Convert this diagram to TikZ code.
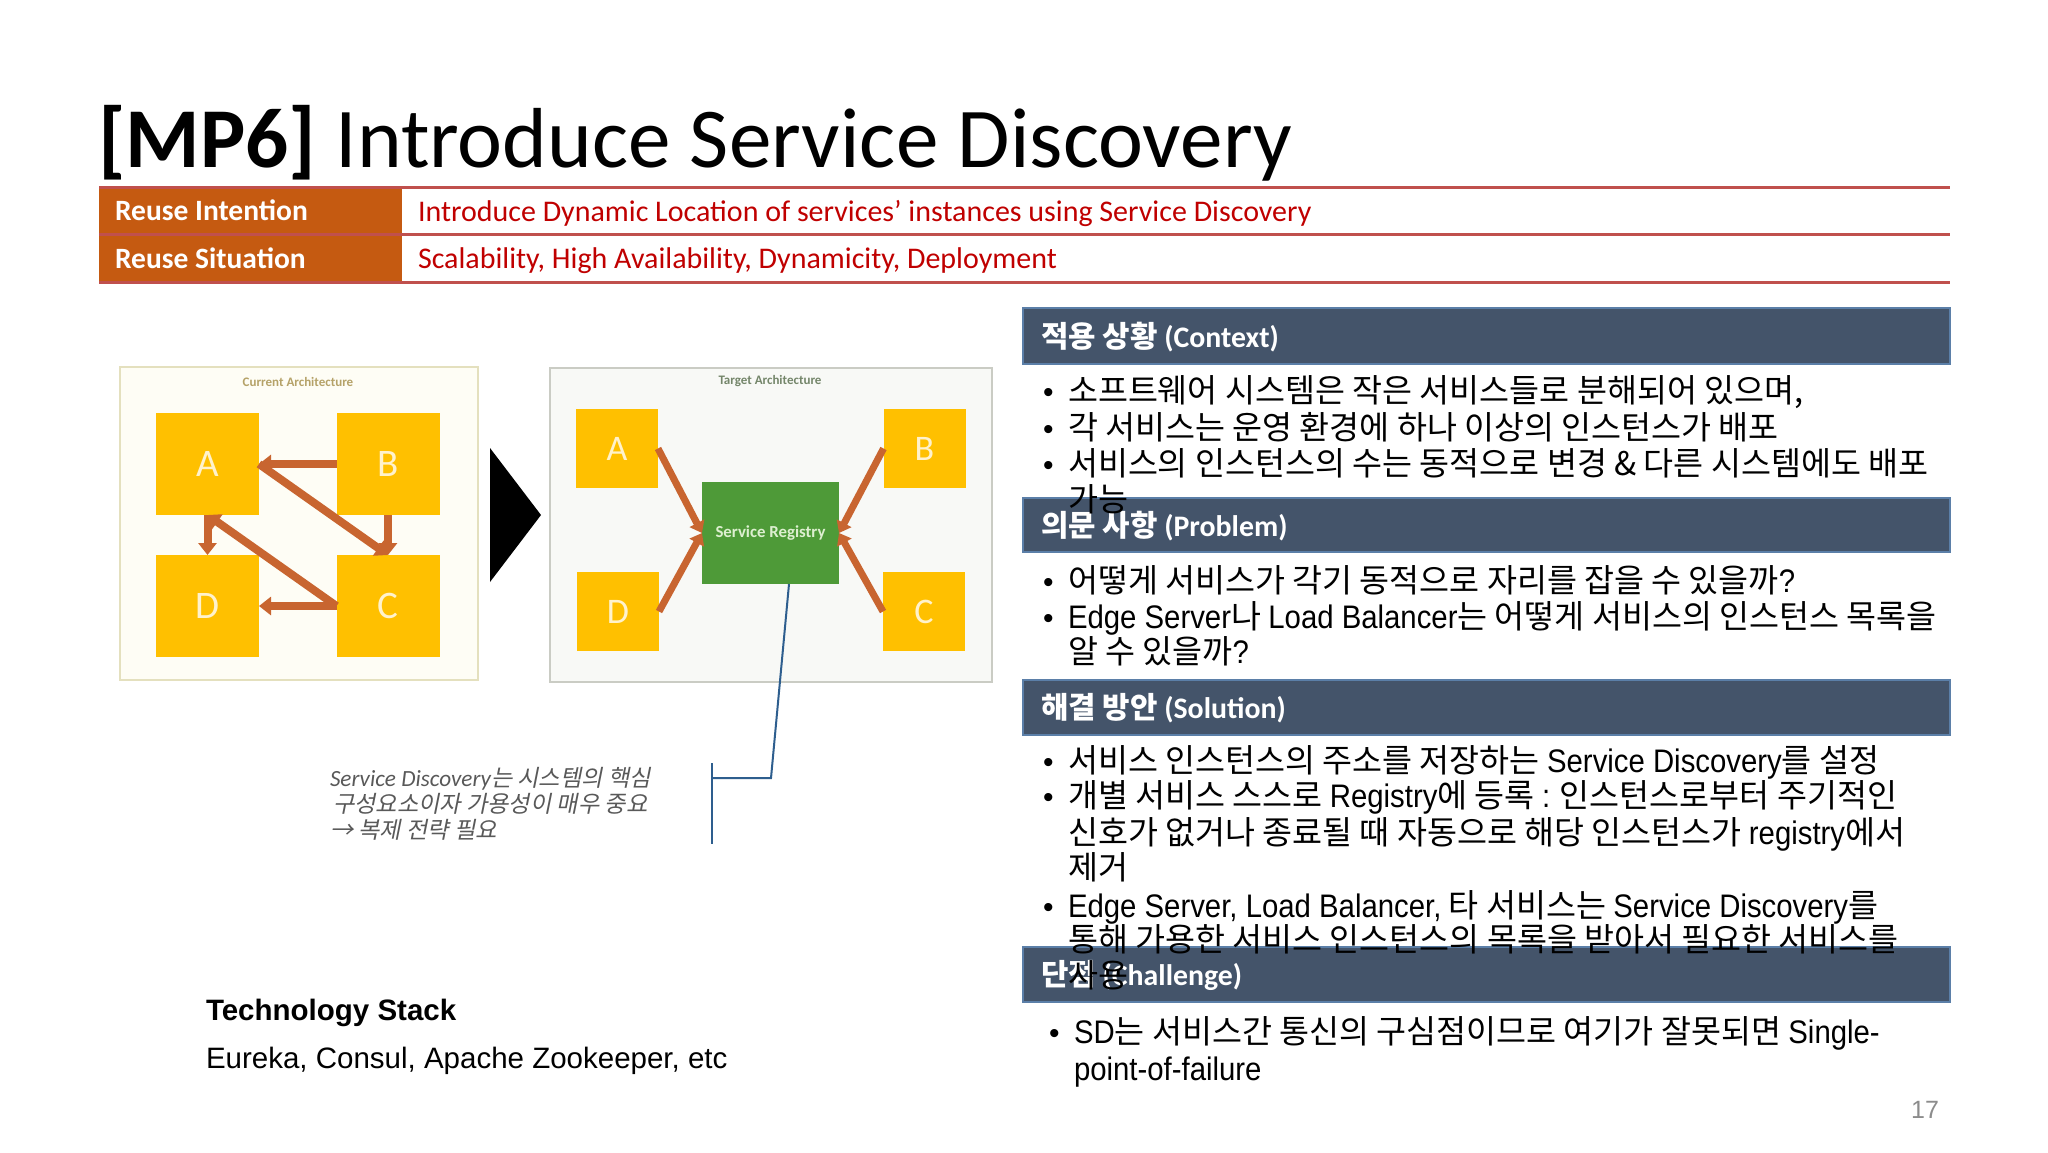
\documentclass[tikz,border=0pt]{standalone}
\usepackage{fontspec}
\setmainfont{Liberation Sans}
\newfontfamily\calib{Carlito}
\newfontfamily\krf{Noto Sans CJK KR}
\newfontfamily\krit{Noto Sans CJK KR}[FakeSlant=0.2]
\newfontfamily\narr{Liberation Sans}[FakeStretch=0.9]
\usetikzlibrary{arrows.meta}
\definecolor{gold}{HTML}{FFC000}
\definecolor{lettercol}{HTML}{FFF2CC}
\definecolor{arrcol}{HTML}{C86530}
\definecolor{hdrfill}{HTML}{44546A}
\definecolor{hdrborder}{HTML}{5B7FA8}
\definecolor{tabline}{HTML}{C0504D}
\definecolor{tabfill}{HTML}{C55A11}
\definecolor{redtxt}{HTML}{C00000}
\definecolor{curfill}{HTML}{FEFDF5}
\definecolor{curdraw}{HTML}{E4E0BE}
\definecolor{curlab}{HTML}{B5A268}
\definecolor{tgtfill}{HTML}{F8F9F6}
\definecolor{tgtdraw}{HTML}{CACCC4}
\definecolor{tgtlab}{HTML}{74866A}
\definecolor{srfill}{HTML}{4E9A38}
\definecolor{srtext}{HTML}{DDEFD0}
\definecolor{blueln}{HTML}{2E5E8E}
\definecolor{notegrey}{HTML}{595959}
\newcommand\EN[1]{{\narr #1}}
\newcommand\CB[1]{{\calib\bfseries #1}}
\begin{document}
\begin{tikzpicture}[x=0.5pt,y=-0.5pt,
  every node/.style={inner sep=0pt,outer sep=0pt},
  sqA/.style={fill=gold,minimum width=51.5pt,minimum height=51pt,text=lettercol,font=\calib\fontsize{19.5pt}{20pt}\selectfont},
  sqB/.style={fill=gold,minimum width=41pt,minimum height=39.5pt,text=lettercol,font=\calib\fontsize{18pt}{19pt}\selectfont},
  arrA/.style={draw=arrcol,line width=4pt,-{Triangle[width=9pt,length=6pt]}},
  arrB/.style={draw=arrcol,line width=3.5pt,-{Triangle[width=8pt,length=5.5pt]}},
  hdr/.style={fill=hdrfill,draw=hdrborder,line width=1pt,minimum width=463.5pt},
  hdrtxt/.style={anchor=west,text=white,font=\krf\bfseries\fontsize{14.9pt}{16pt}\selectfont},
  body/.style={anchor=base west,font=\krf\fontsize{16.3pt}{19pt}\selectfont},
  bul/.style={anchor=base west,font=\rmfamily\fontsize{15pt}{18pt}\selectfont},
  tab/.style={anchor=west,font=\calib\fontsize{15pt}{16pt}\selectfont},
  note/.style={anchor=base west,text=notegrey,font=\krit\fontsize{11.6pt}{13pt}\selectfont},
]
\fill[white] (0,0) rectangle (2048,1152);
\useasboundingbox (0,0) rectangle (2048,1152);

% title
\node[anchor=base west,font=\calib\fontsize{42.6pt}{46pt}\selectfont] (title) at (98,167) {\textbf{[MP6]} Introduce Service Discovery};

% table
\fill[tabfill] (99,187) rectangle (402,282);
\draw[tabline,line width=1.5pt] (99,187) -- (1950,187);
\draw[tabline,line width=1.5pt] (99,234) -- (1950,234);
\draw[tabline,line width=1.5pt] (99,282) -- (1950,282);
\node[tab,text=white,font=\calib\bfseries\fontsize{14.75pt}{16pt}\selectfont] (ri) at (115,210) {Reuse Intention};
\node[tab,text=white,font=\calib\bfseries\fontsize{14.75pt}{16pt}\selectfont] (rs) at (115,258) {Reuse Situation};
\node[tab,text=redtxt] (rit) at (418,213) {Introduce Dynamic Location of services’ instances using Service Discovery};
\node[tab,text=redtxt] (rst) at (418,261) {Scalability, High Availability, Dynamicity, Deployment};

% current architecture
\node[fill=curfill,draw=curdraw,line width=1pt,minimum width=179pt,minimum height=156.5pt] (curbox) at (299,523.5) {};
\node[text=curlab,font=\calib\bfseries\fontsize{6.5pt}{7pt}\selectfont] (curlbl) at (298,382) {Current Architecture};
\node[sqA] (A1) at (207.5,464) {A};
\node[sqA] (B1) at (388,464) {B};
\node[sqA] (D1) at (207.5,606) {D};
\node[sqA] (C1) at (388,606) {C};
\draw[arrA] (B1.west) -- (A1.east);
\draw[arrA] (A1.east) -- (C1.north);
\draw[arrA] (B1.south) -- (C1.north);
\draw[arrA] (C1.west) -- (A1.south);
\draw[arrA] (A1.south) -- (D1.north);
\draw[arrA] (C1.west) -- (D1.east);

% big arrow
\fill[black] (490,448) -- (541,515) -- (490,582) -- cycle;

% target architecture
\node[fill=tgtfill,draw=tgtdraw,line width=1pt,minimum width=221pt,minimum height=157pt] (tgtbox) at (771,525) {};
\node[text=tgtlab,font=\calib\bfseries\fontsize{6.5pt}{7pt}\selectfont] (tgtlbl) at (770,381) {Target Architecture};
\node[sqB] (A2) at (617,448.5) {A};
\node[sqB] (B2) at (924.5,448.5) {B};
\node[sqB] (D2) at (618,611.5) {D};
\node[sqB] (C2) at (924,611.5) {C};
\node[fill=srfill,minimum width=68.5pt,minimum height=51pt,text=srtext,font=\calib\bfseries\fontsize{8.4pt}{9pt}\selectfont] (SR) at (770.5,533) {Service Registry};
\draw[arrB] (A2.east) -- (SR.west);
\draw[arrB] (D2.east) -- (SR.west);
\draw[arrB] (B2.west) -- (SR.east);
\draw[arrB] (C2.west) -- (SR.east);

% callout
\coordinate (bk) at (771,778);
\coordinate (bm) at (712,778);
\coordinate (bt) at (712,763);
\coordinate (bb) at (712,844);
\draw[blueln,line width=1pt] ([xshift=9.25pt]SR.south) -- (bk) -- (bm);
\draw[blueln,line width=1pt] (bt) -- (bb);
\node[note] (n1) at (330,786) {{\calib\itshape Service Discovery}는 시스템의 핵심};
\node[note] (n2) at (333,812) {구성요소이자 가용성이 매우 중요};
\node[note] (n3) at (330,838) {→ 복제 전략 필요};

% technology stack
\node[anchor=base west,font=\rmfamily\bfseries\fontsize{14.75pt}{16pt}\selectfont] (ts) at (206,1020) {Technology Stack};
\node[anchor=base west,font=\rmfamily\fontsize{14.75pt}{16pt}\selectfont] (tsl) at (206,1068) {Eureka, Consul, Apache Zookeeper, etc};

% headers
\node[hdr,minimum height=28pt] (hctx) at (1486.5,336) {};
\node[hdr,minimum height=27pt] (hprb) at (1486.5,525) {};
\node[hdr,minimum height=27.5pt] (hsol) at (1486.5,707.5) {};
\node[hdr,minimum height=27.5pt] (hchl) at (1486.5,974.5) {};
\node[hdrtxt] (tctx) at (1041,337) {적용 상황 \CB{(Context)}};
\node[hdrtxt] (tprb) at (1041,526) {의문 사항 \CB{(Problem)}};
\node[hdrtxt] (tsol) at (1041,708.5) {해결 방안 \CB{(Solution)}};
\node[hdrtxt] (tchl) at (1041,975.5) {단점 \CB{(Challenge)}};

% context bullets
\node[bul] (bc1) at (1043,402) {•};
\node[bul] (bc2) at (1043,439) {•};
\node[bul] (bc3) at (1043,475) {•};
\node[body] (c1) at (1068,402) {소프트웨어 시스템은 작은 서비스들로 분해되어 있으며,};
\node[body] (c2) at (1068,439) {각 서비스는 운영 환경에 하나 이상의 인스턴스가 배포};
\node[body] (c3) at (1068,475) {서비스의 인스턴스의 수는 동적으로 변경 \& 다른 시스템에도 배포};
\node[body] (c4) at (1068,511) {가능};

% problem bullets
\node[bul] (bp1) at (1043,592) {•};
\node[bul] (bp2) at (1043,628) {•};
\node[body] (p1) at (1068,592) {어떻게 서비스가 각기 동적으로 자리를 잡을 수 있을까\EN{?}};
\node[body] (p2) at (1068,628) {\EN{Edge Server}나 \EN{Load Balancer}는 어떻게 서비스의 인스턴스 목록을};
\node[body] (p3) at (1068,663) {알 수 있을까\EN{?}};

% solution bullets
\node[bul] (bs1) at (1043,772) {•};
\node[bul] (bs2) at (1043,807) {•};
\node[bul] (bs3) at (1043,917) {•};
\node[body] (s1) at (1068,772) {서비스 인스턴스의 주소를 저장하는 \EN{Service Discovery}를 설정};
\node[body] (s2) at (1068,807) {개별 서비스 스스로 \EN{Registry}에 등록 \EN{:} 인스턴스로부터 주기적인};
\node[body] (s3) at (1068,844) {신호가 없거나 종료될 때 자동으로 해당 인스턴스가 \EN{registry}에서};
\node[body] (s4) at (1068,879) {제거};
\node[body] (s5) at (1068,917) {\EN{Edge Server, Load Balancer,} 타 서비스는 \EN{Service Discovery}를};
\node[body] (s6) at (1068,951) {통해 가용한 서비스 인스턴스의 목록을 받아서 필요한 서비스를};
\node[body] (s7) at (1068,987) {사용};

% challenge bullets
\node[bul] (bh1) at (1049,1043) {•};
\node[body] (h1) at (1074,1043) {\EN{SD}는 서비스간 통신의 구심점이므로 여기가 잘못되면 \EN{Single-}};
\node[body] (h2) at (1074,1080) {\EN{point-of-failure}};

% page number
\node[text=black!45,font=\rmfamily\fontsize{12.5pt}{14pt}\selectfont] (pg) at (1925,1110) {17};
\end{tikzpicture}
\end{document}
